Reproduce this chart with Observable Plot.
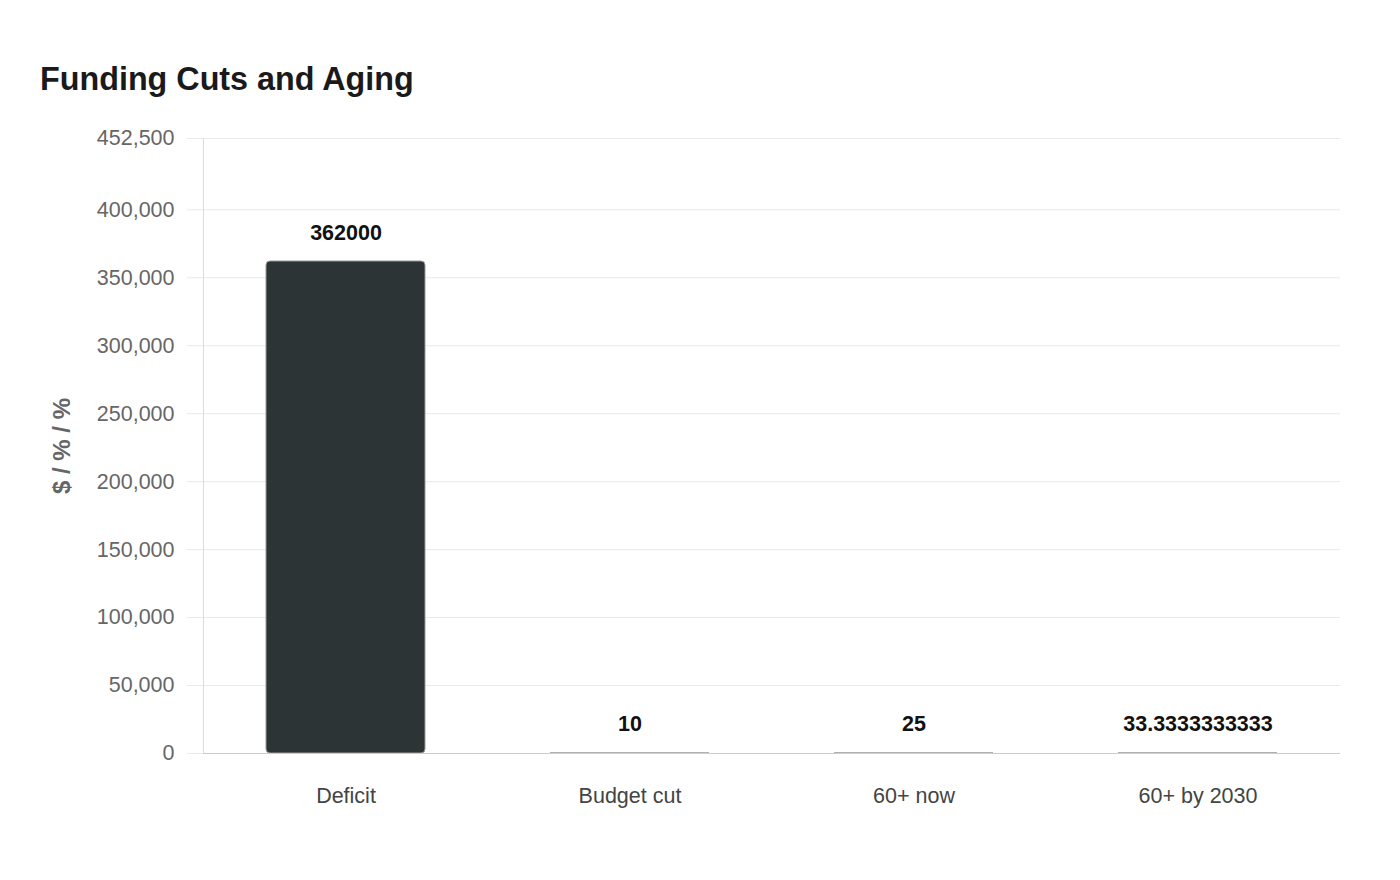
<!DOCTYPE html>
<html>
<head>
<meta charset="utf-8">
<script src="https://cdn.jsdelivr.net/npm/d3@7"></script>
<script src="https://cdn.jsdelivr.net/npm/@observablehq/plot@0.6"></script>
<style>
  html, body { margin: 0; padding: 0; background: #fff; }
  body { width: 1400px; height: 880px; position: relative; overflow: hidden; font-family: "Liberation Sans", Arial, sans-serif; }
  #title { position: absolute; left: 40px; top: 61px; font-size: 32.3px; font-weight: bold; color: #1a1a1a; line-height: normal; white-space: nowrap; }
  #chart { position: absolute; left: 0; top: 100px; }
</style>
</head>
<body>
<div id="title">Funding Cuts and Aging</div>
<div id="chart"></div>
<script>
const categories = ["Deficit", "Budget cut", "60+ now", "60+ by 2030"];
const values = [362000, 10, 25, 33.3333333333];
const valueLabels = ["362000", "10", "25", "33.3333333333"];
const yTicks = [0, 50000, 100000, 150000, 200000, 250000, 300000, 350000, 400000, 452500];
const yMax = 452500;
const yLabel = "$ / % / %";

const data = categories.map((c, i) => ({category: c, value: values[i], label: valueLabels[i]}));

const chart = Plot.plot({
  width: 1400,
  height: 780,
  marginLeft: 203,
  marginRight: 60,
  marginTop: 38,
  marginBottom: 127,
  style: {fontFamily: "'Liberation Sans', Arial, sans-serif", fontSize: "21.5px", background: "#fff"},
  x: {domain: categories, paddingInner: 0.44, paddingOuter: 0.22, align: 0.5},
  y: {domain: [0, yMax]},
  marks: [
    Plot.gridY(yTicks, {stroke: "#e9e9e9", strokeOpacity: 1}),
    Plot.axisY(yTicks, {
      tickSize: 16, tickPadding: 13, stroke: "#e9e9e9", strokeOpacity: 1,
      tickFormat: d3.format(","), fill: "#666", fontSize: 21.5,
      label: null
    }),
    Plot.text([yLabel], {
      frameAnchor: "left", textAnchor: "middle", dx: -141, rotate: -90, fontWeight: "bold",
      fill: "#666", fontSize: 24
    }),
    Plot.frame({anchor: "left", stroke: "#dcdcdc"}),
    Plot.barY(data, {x: "category", y: "value", fill: "#2d3436", stroke: "#999", strokeWidth: 1, rx: 4}),
    Plot.ruleY([0], {stroke: "#cccccc"}),
    Plot.axisX({tickSize: 0, tickPadding: 34, fill: "#444", fontSize: 21.5, label: null}),
    Plot.text(data, {x: "category", y: "value", text: "label", lineAnchor: "bottom", dy: -22, fontWeight: "bold", fill: "#111", fontSize: 21.5})
  ]
});
document.getElementById("chart").appendChild(chart);
</script>
</body>
</html>
